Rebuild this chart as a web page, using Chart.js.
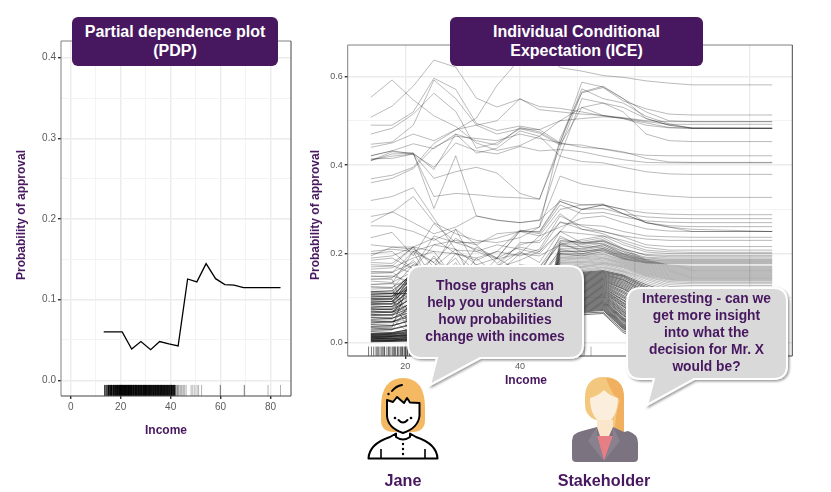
<!DOCTYPE html>
<html>
<head>
<meta charset="utf-8">
<script src="https://cdn.jsdelivr.net/npm/chart.js@4"></script>
<style>
  html, body { margin: 0; padding: 0; background: #fff; }
  body { position: relative; width: 831px; height: 492px; overflow: hidden; font-family: "Liberation Sans", Arial, sans-serif; }
  canvas { position: absolute; top: 0; }
  svg { position: absolute; left: 0; top: 0; }
  .box { position: absolute; top: 17px; height: 49px; background: #47185f; color: #fff; border-radius: 6px; font-weight: bold; font-size: 16px; line-height: 19px; text-align: center; padding-top: 5px; box-sizing: border-box; }
  .say { position: absolute; color: #47185f; font-weight: bold; font-size: 13.8px; line-height: 16.9px; text-align: center; white-space: nowrap; transform: translateX(-50%); }
  .axis { position: absolute; color: #47185f; font-weight: bold; font-size: 12px; white-space: nowrap; transform: translate(-50%, -50%); }
  .axis.y { transform: translate(-50%, -50%) rotate(-90deg); }
  .name { position: absolute; color: #47185f; font-weight: bold; font-size: 16.2px; white-space: nowrap; transform: translate(-50%, -50%); }
</style>
</head>
<body>
<canvas id="pdpChart" width="320" height="492" style="left:0"></canvas>
<canvas id="iceChart" width="511" height="492" style="left:320px"></canvas>

<svg width="831" height="492" viewBox="0 0 831 492">
  <defs>
    <filter id="shade" x="-10%" y="-10%" width="125%" height="125%">
      <feDropShadow dx="1.5" dy="1.5" stdDeviation="1.2" flood-color="#000" flood-opacity="0.4"/>
    </filter>
  </defs>
  <path d="M422,266H569Q583,266 583,280V344Q583,358 569,358H480L430,385L437,358H422Q408,358 408,344V280Q408,266 422,266Z" fill="#d9d9d9" stroke="#fff" stroke-width="2" filter="url(#shade)"/>
  <path d="M641,288H773Q787,288 787,302V365Q787,379 773,379H694L647,405L654,379H641Q627,379 627,365V302Q627,288 641,288Z" fill="#d9d9d9" stroke="#fff" stroke-width="2" filter="url(#shade)"/>

  <!-- Jane -->
  <path d="M381,408Q381,378 403,378Q425,378 425,408V420Q425,432 412,432H394Q381,432 381,420Z" fill="#f4b962"/>
  <path d="M387,400V416Q388,428 403,433Q418,428 419.5,416V403L410,402.5L407,398L404,403L397,397L393,402Z" fill="#fff" stroke="#000" stroke-width="2" stroke-linejoin="round"/>
  <path d="M392,391Q396,386 402,385" fill="none" stroke="#000" stroke-width="2" stroke-linecap="round"/>
  <circle cx="388.5" cy="394" r="1.2"/>
  <circle cx="395" cy="418" r="1.3"/><circle cx="411" cy="418" r="1.3"/>
  <path d="M398.5,420Q403,425 407.5,420" fill="none" stroke="#000" stroke-width="2" stroke-linecap="round"/>
  <path d="M368.5,458.5C369,447 378,441 390,437L396,433.5V437Q403,442 410,437V433.5L416,437C428,441 437,447 437.5,458.5Z" fill="#fff" stroke="#000" stroke-width="2" stroke-linejoin="round"/>
  <path d="M381,449V458M425,449V458" stroke="#000" stroke-width="1.6"/>
  <circle cx="403" cy="444" r="1.2"/><circle cx="403" cy="449" r="1.2"/><circle cx="403" cy="454" r="1.2"/>

  <!-- Stakeholder -->
  <path d="M585,398Q585,377 604,377Q624,377 624,398V430Q624,438 618,438H612V420H596Q585,416 585,405Z" fill="#f4c77e"/>
  <path d="M606,378Q624,378 624,398V437H614Q616,410 620,400Q612,396 606,378Z" fill="#f0b060"/>
  <path d="M590,398Q598,396 604,390Q610,396 618,398Q618,418 604,425Q590,418 590,398Z" fill="#fbeedd"/>
  <rect x="597" y="420" width="16" height="18" fill="#fbe6cc"/>
  <path d="M572,441Q572,433 582,431L597,427L600,436H609L613,427L624,432L628,431Q638,434 638,443V458Q638,462 634,462H576Q572,462 572,458Z" fill="#7c7380"/>
  <path d="M597,436H613L604,461Z" fill="#e57f85"/>
  <path d="M597,427L588,441L604,461L597,436ZM613,427L620,441L604,461L613,436Z" fill="#8a818e"/>
</svg>

<div class="box" style="left:72px;width:206px">Partial dependence plot<br>(PDP)</div>
<div class="box" style="left:450px;width:253px">Individual Conditional<br>Expectation (ICE)</div>
<div class="say" style="left:495px;top:278px">Those graphs can<br>help you understand<br>how probabilities<br>change with incomes</div>
<div class="say" style="left:706.5px;top:291px">Interesting - can we<br>get more insight<br>into what the<br>decision for Mr. X<br>would be?</div>
<div class="axis y" style="left:21px;top:215px">Probability of approval</div>
<div class="axis y" style="left:315px;top:215px">Probability of approval</div>
<div class="axis" style="left:166px;top:430px">Income</div>
<div class="axis" style="left:526px;top:380px">Income</div>
<div class="name" style="left:403px;top:480px">Jane</div>
<div class="name" style="left:604px;top:480px">Stakeholder</div>

<script>
// --- PDP curve ---
const pdpIncome = [13.2, 16.9, 20.6, 24.4, 28.1, 32, 35.6, 39.3, 43, 46.8, 50.5, 54.2, 58, 61.7, 65.4, 69.2, 84];
const pdpProb = [.06, .06, .06, .0388, .048, .038, .048, .045, .0425, .1256, .122, .1446, .126, .1186, .118, .115, .115];

// --- Axis ticks ---
const pdpXMajor = [0, 20, 40, 60, 80];
const pdpXMinor = [10, 30, 50, 70];
const pdpYMajor = [0, .1, .2, .3, .4];
const pdpYMinor = [.05, .15, .25, .35];
const iceXMajor = [20, 40, 60, 80];
const iceXMinor = [30, 50, 70];
const iceYMajor = [0, .2, .4, .6];
const iceYMinor = [.1, .3, .5];

// --- Observed incomes for the rug ---
const rugDense = [13.6, 14.1, 14.5, 14.9, 15.1, 15.3, 15.6, 15.9, 16.1, 16.3, 16.4, 16.8, 17.1, 17.2, 17.5, 17.8, 18, 18.1, 18.3, 18.6, 18.7, 18.9, 19.2, 19.3, 19.5, 19.6, 19.9, 20, 20.1, 20.3, 20.4, 20.7, 20.8, 21, 21.1, 21.3, 21.5, 21.6, 21.9, 22, 22.1, 22.3, 22.5, 22.6, 22.8, 23, 23.1, 23.2, 23.5, 23.6, 23.8, 24, 24.1, 24.3, 24.4, 24.6, 24.9, 25, 25.1, 25.3, 25.4, 25.7, 25.9, 26, 26.2, 26.4, 26.5, 26.8, 27, 27.1, 27.3, 27.6, 27.7, 28, 28.1, 28.3, 28.5, 28.6, 28.9, 29.1, 29.2, 29.5, 29.6, 29.9, 30, 30.2, 30.4, 30.5, 30.8, 31, 31.1, 31.4, 31.6, 31.7, 32, 32.1, 32.4, 32.5, 32.8, 33, 33.2, 33.3, 33.6, 33.8, 34, 34.1, 34.4, 34.6, 34.7, 35, 35.2, 35.3, 35.6, 35.8, 36, 36.2, 36.4, 36.5, 36.8, 37, 37.2, 37.4, 37.6, 37.8, 38, 38.3, 38.5, 38.7, 38.9, 39.1, 39.4, 39.6, 39.8, 40.1, 40.3, 40.4, 40.7, 41, 41.2, 41.5, 41.7];
const rugSparse = [42, 42.1, 42.5, 42.8, 43, 43.3, 43.8, 44.2, 44.6, 45.1, 45.6, 46.2, 48.2, 48.9, 49.7, 50.6, 51.2, 52.4, 59.9, 59.9, 69.5, 69.5, 79, 84];

// --- ICE curves ---
const iceIncome = [14, 17.7, 21.4, 25, 28.8, 32.4, 36, 40, 43.4, 47, 50.8, 54.5, 58, 62, 66, 70, 84];

// individuals with high approval
const iceHigh = [
  [.553, .592, .547, .511, .487, .45, .433, .444, .465, .5, .505, .509, .506, .498, .492, .492, .492],
  [.508, .533, .578, .637, .621, .551, .531, .549, .532, .528, .52, .511, .505, .495, .485, .483, .483],
  [.49, .49, .52, .596, .571, .494, .478, .488, .48, .45, .572, .55, .54, .51, .493, .483, .483],
  [.47, .483, .515, .562, .521, .438, .45, .482, .472, .445, .53, .512, .505, .49, .484, .483, .483],
  [.447, .452, .49, .592, .55, .49, .47, .482, .48, .5, .53, .54, .53, .505, .49, .483, .483],
  [.369, .377, .395, .449, .479, .506, .58, .64, .66, .62, .612, .602, .598, .59, .585, .581, .581],
  [.421, .432, .425, .37, .385, .395, .382, .336, .323, .45, .587, .576, .55, .505, .49, .484, .483],
  [.414, .415, .425, .329, .336, .333, .328, .326, .323, .44, .565, .578, .55, .52, .5, .498, .498],
  [.41, .425, .427, .302, .421, .285, .276, .27, .276, .318, .3, .31, .29, .27, .26, .255, .25],
  [.32, .329, .349, .28, .208, .205, .22, .21, .2, .25, .3, .31, .3, .27, .26, .25, .25],
  [.284, .293, .329, .27, .245, .23, .225, .236, .26, .375, .357, .349, .342, .335, .33, .327, .327],
  [.421, .432, .448, .437, .47, .455, .445, .485, .475, .448, .445, .436, .428, .422, .421, .421, .421],
  [.412, .42, .425, .395, .45, .432, .425, .442, .432, .435, .43, .42, .412, .406, .405, .405, .405],
  [.41, .43, .427, .39, .47, .427, .438, .477, .465, .42, .408, .405, .395, .385, .38, .379, .379],
  [.27, .295, .27, .245, .26, .285, .275, .27, .275, .42, .55, .54, .52, .47, .455, .453, .453],
  [.263, .262, .25, .23, .255, .22, .245, .25, .26, .46, .563, .575, .545, .527, .515, .513, .513],
  [.44, .45, .47, .455, .48, .49, .5, .55, .525, .52, .515, .512, .507, .5, .498, .498, .498],
  [.36, .37, .392, .44, .465, .46, .455, .47, .46, .45, .44, .437, .43, .415, .407, .406, .406]
];

// individuals in the middle, with the step near 45
const iceMid = [
  [.236, .248, .195, .268, .225, .21, .19, .25, .25, .322, .31, .31, .3, .292, .289, .288, .288],
  [.22, .215, .215, .235, .2, .185, .205, .253, .248, .318, .3, .302, .29, .283, .28, .279, .279],
  [.205, .21, .205, .22, .21, .175, .19, .252, .245, .31, .29, .293, .283, .274, .271, .27, .27],
  [.2, .205, .165, .24, .225, .225, .235, .25, .24, .3, .31, .312, .29, .27, .263, .261, .261],
  [.195, .215, .21, .18, .235, .205, .188, .2, .24, .26, .28, .285, .27, .256, .251, .25, .25],
  [.19, .195, .215, .17, .255, .17, .17, .225, .225, .27, .265, .262, .25, .24, .238, .237, .237],
  [.185, .19, .165, .22, .23, .22, .178, .22, .23, .29, .255, .25, .24, .233, .23, .23, .23],
  [.18, .178, .215, .205, .2, .19, .205, .195, .21, .285, .262, .25, .238, .22, .216, .216, .216],
  [.175, .173, .155, .19, .15, .215, .19, .215, .205, .25, .245, .24, .23, .214, .208, .208, .208],
  [.17, .172, .215, .14, .2, .16, .168, .185, .205, .272, .255, .245, .225, .208, .204, .203, .203],
  [.165, .168, .19, .205, .14, .175, .155, .2, .195, .22, .232, .24, .22, .204, .2, .2, .2],
  [.16, .158, .18, .15, .19, .12, .17, .205, .18, .25, .225, .228, .21, .198, .196, .196, .196],
  [.155, .157, .205, .18, .13, .19, .15, .165, .17, .235, .222, .23, .212, .196, .193, .193, .193],
  [.15, .147, .175, .17, .21, .125, .175, .165, .16, .23, .225, .222, .205, .192, .19, .19, .19],
  [.148, .15, .135, .195, .125, .16, .14, .175, .17, .22, .21, .22, .2, .19, .187, .187, .187],
  [.142, .145, .185, .14, .165, .14, .19, .16, .15, .24, .215, .215, .198, .187, .185, .185, .185],
  [.138, .135, .16, .125, .18, .11, .13, .155, .16, .225, .205, .212, .195, .186, .183, .183, .183],
  [.13, .133, .205, .12, .14, .155, .16, .14, .14, .21, .2, .21, .193, .183, .181, .181, .181],
  [.126, .124, .15, .165, .11, .17, .125, .15, .15, .205, .205, .208, .19, .181, .179, .179, .179],
  [.12, .122, .175, .11, .15, .105, .145, .13, .145, .2, .195, .205, .188, .179, .177, .177, .177]
];

// the dense mass near zero
const iceLow = [
  [.001, .002, .003, .002, .004, .003, .004, .005, .006, .045, .062, .065, .022, .002, .001, .001, .001],
  [.002, .002, .004, .003, .003, .005, .006, .005, .008, .05, .066, .068, .026, .004, .002, .002, .002],
  [.003, .004, .006, .004, .007, .006, .005, .008, .01, .052, .068, .072, .03, .006, .003, .003, .003],
  [.004, .004, .005, .007, .006, .008, .009, .01, .011, .056, .07, .074, .032, .007, .004, .004, .004],
  [.005, .006, .008, .006, .01, .009, .01, .012, .012, .058, .072, .076, .034, .008, .005, .005, .005],
  [.006, .005, .009, .008, .009, .012, .011, .013, .014, .06, .074, .078, .036, .01, .006, .006, .006],
  [.007, .008, .007, .011, .012, .01, .014, .014, .016, .06, .076, .08, .038, .012, .007, .007, .007],
  [.008, .009, .012, .01, .013, .014, .013, .017, .018, .064, .078, .082, .04, .014, .008, .008, .008],
  [.009, .008, .011, .013, .012, .016, .017, .016, .02, .066, .08, .084, .042, .016, .01, .009, .009],
  [.01, .012, .014, .012, .017, .015, .018, .02, .021, .068, .082, .086, .045, .018, .011, .01, .01],
  [.011, .011, .013, .016, .015, .019, .02, .022, .023, .07, .084, .088, .048, .02, .012, .012, .012],
  [.012, .013, .017, .015, .02, .018, .022, .023, .025, .07, .086, .09, .05, .022, .014, .013, .013],
  [.013, .014, .016, .019, .018, .023, .022, .026, .027, .074, .088, .092, .052, .024, .015, .014, .014],
  [.014, .015, .02, .018, .023, .022, .026, .027, .03, .076, .09, .094, .054, .026, .017, .016, .016],
  [.015, .014, .019, .022, .021, .026, .028, .03, .031, .078, .092, .096, .056, .028, .019, .018, .018],
  [.016, .018, .023, .021, .027, .025, .03, .031, .034, .08, .094, .098, .06, .03, .021, .02, .02],
  [.017, .017, .022, .026, .024, .03, .031, .035, .036, .082, .096, .1, .062, .032, .023, .022, .022],
  [.018, .02, .027, .024, .032, .029, .036, .036, .04, .085, .098, .102, .065, .034, .025, .024, .024],
  [.019, .019, .025, .03, .028, .036, .035, .042, .042, .088, .1, .104, .068, .036, .027, .026, .026],
  [.02, .021, .031, .028, .037, .034, .042, .04, .047, .09, .102, .106, .07, .038, .03, .028, .028],
  [.024, .022, .03, .035, .033, .042, .04, .048, .048, .092, .104, .108, .073, .041, .032, .03, .03],
  [.028, .029, .04, .036, .046, .041, .05, .048, .056, .095, .106, .11, .076, .044, .034, .032, .032],
  [.032, .03, .042, .048, .044, .054, .05, .06, .06, .098, .108, .112, .08, .047, .036, .035, .035],
  [.036, .037, .052, .046, .06, .052, .064, .06, .07, .1, .11, .114, .082, .05, .039, .038, .038],
  [.04, .038, .05, .058, .054, .066, .062, .074, .072, .102, .112, .116, .085, .053, .042, .041, .041],
  [.044, .046, .066, .056, .074, .062, .078, .072, .084, .105, .114, .118, .088, .056, .045, .044, .044],
  [.048, .046, .06, .072, .064, .08, .074, .088, .086, .108, .116, .12, .09, .06, .048, .047, .047],
  [.052, .054, .078, .066, .09, .074, .094, .084, .1, .11, .118, .122, .094, .063, .052, .05, .05],
  [.056, .054, .07, .086, .074, .098, .086, .104, .1, .112, .12, .124, .096, .066, .055, .053, .053],
  [.06, .062, .092, .076, .104, .084, .11, .098, .116, .115, .122, .126, .1, .07, .058, .056, .056],
  [.063, .061, .08, .1, .086, .112, .098, .122, .114, .118, .124, .128, .103, .073, .061, .059, .059],
  [.066, .068, .105, .085, .118, .096, .124, .11, .13, .12, .126, .13, .106, .076, .064, .062, .062],
  [.07, .068, .09, .115, .096, .128, .11, .135, .126, .122, .128, .132, .11, .08, .067, .065, .065],
  [.073, .075, .118, .094, .132, .106, .138, .122, .142, .125, .13, .134, .113, .083, .07, .068, .068],
  [.076, .074, .1, .13, .106, .142, .12, .148, .136, .128, .132, .136, .116, .086, .073, .071, .071],
  [.079, .081, .13, .104, .146, .116, .15, .13, .152, .13, .134, .138, .12, .09, .076, .074, .074],
  [.082, .08, .11, .142, .116, .154, .13, .16, .146, .133, .136, .14, .122, .093, .079, .077, .077],
  [.085, .087, .142, .114, .158, .126, .16, .14, .16, .136, .138, .142, .125, .096, .082, .08, .08],
  [.088, .086, .12, .155, .126, .16, .14, .155, .13, .138, .14, .144, .128, .1, .085, .083, .083],
  [.09, .092, .152, .12, .16, .134, .15, .12, .145, .14, .142, .146, .131, .103, .088, .086, .086],
  [.093, .092, .13, .16, .134, .15, .118, .14, .12, .142, .144, .148, .134, .106, .091, .089, .089],
  [.096, .098, .16, .128, .15, .11, .145, .115, .15, .145, .146, .15, .137, .11, .094, .092, .092],
  [.099, .098, .138, .145, .105, .14, .11, .15, .1, .148, .148, .152, .14, .113, .097, .095, .095],
  [.102, .104, .155, .1, .145, .09, .15, .095, .14, .15, .15, .154, .142, .116, .1, .098, .098],
  [.105, .104, .125, .15, .08, .145, .085, .14, .09, .152, .152, .156, .145, .12, .103, .101, .101],
  [.108, .11, .16, .09, .14, .075, .14, .08, .13, .155, .154, .158, .148, .123, .106, .104, .104],
  [.111, .11, .11, .14, .07, .13, .07, .135, .08, .158, .156, .16, .15, .126, .11, .108, .108],
  [.114, .116, .155, .075, .13, .065, .13, .07, .12, .16, .158, .162, .152, .13, .114, .112, .112]
];

// the lighter top of the mass, flat tails from 0.12 to 0.17
const iceUpper = [
  [.026, .027, .1, .13, .06, .12, .06, .125, .07, .162, .16, .165, .155, .134, .118, .116, .116],
  [.034, .033, .16, .065, .12, .055, .12, .06, .11, .165, .162, .168, .158, .138, .122, .12, .12],
  [.043, .044, .09, .12, .05, .11, .05, .115, .06, .168, .165, .17, .16, .142, .126, .124, .124],
  [.057, .056, .15, .055, .11, .045, .11, .05, .1, .17, .168, .173, .162, .145, .13, .128, .128],
  [.067, .068, .08, .11, .04, .1, .04, .105, .05, .172, .17, .176, .165, .148, .134, .132, .132],
  [.078, .077, .16, .045, .1, .035, .1, .04, .09, .175, .172, .178, .168, .15, .137, .135, .135],
  [.091, .092, .07, .1, .03, .09, .03, .095, .04, .178, .175, .18, .17, .152, .14, .138, .138],
  [.103, .102, .15, .035, .09, .025, .09, .03, .08, .18, .178, .182, .172, .154, .142, .14, .14],
  [.115, .116, .06, .09, .02, .08, .02, .085, .03, .182, .18, .185, .174, .156, .144, .142, .142],
  [.034, .035, .16, .03, .08, .02, .08, .025, .07, .185, .182, .188, .176, .158, .146, .144, .144],
  [.048, .047, .05, .08, .02, .07, .015, .075, .02, .188, .185, .19, .178, .16, .148, .146, .146],
  [.062, .063, .15, .025, .07, .015, .07, .02, .06, .19, .188, .192, .18, .162, .15, .148, .148],
  [.074, .073, .04, .07, .015, .06, .01, .065, .015, .192, .19, .195, .182, .164, .152, .15, .15],
  [.086, .087, .16, .02, .06, .01, .06, .015, .05, .195, .192, .198, .184, .166, .154, .152, .152],
  [.098, .097, .03, .06, .01, .05, .01, .055, .01, .198, .195, .2, .186, .168, .156, .154, .154],
  [.108, .109, .14, .015, .05, .01, .05, .01, .04, .2, .198, .204, .188, .17, .158, .156, .156],
  [.124, .123, .02, .05, .01, .04, .008, .045, .01, .202, .2, .208, .19, .172, .16, .158, .158],
  [.131, .132, .13, .01, .04, .008, .04, .01, .03, .205, .204, .212, .192, .174, .162, .16, .16],
  [.143, .142, .02, .04, .008, .03, .006, .035, .008, .208, .208, .216, .195, .176, .164, .162, .162],
  [.158, .159, .12, .01, .03, .006, .03, .008, .02, .212, .212, .22, .198, .178, .166, .164, .164],
  [.05, .051, .015, .03, .006, .02, .005, .025, .006, .216, .216, .224, .2, .18, .168, .166, .166],
  [.07, .069, .11, .008, .02, .005, .02, .006, .015, .22, .22, .228, .204, .182, .17, .168, .168],
  [.095, .096, .01, .02, .005, .015, .004, .02, .005, .224, .224, .232, .208, .184, .172, .17, .17],
  [.113, .112, .1, .006, .015, .004, .015, .005, .01, .228, .228, .236, .212, .186, .174, .172, .172]
];

// ggplot style frame round the panel
const framePlugin = {
  id: 'frame',
  afterDatasetsDraw(chart) {
    const { ctx, chartArea: a } = chart;
    ctx.save();
    ctx.lineWidth = 1;
    ctx.strokeStyle = '#808080';
    ctx.beginPath();
    ctx.moveTo(a.left, a.bottom);
    ctx.lineTo(a.left, a.top);
    ctx.lineTo(a.right, a.top);
    ctx.stroke();
    ctx.strokeStyle = '#444';
    ctx.beginPath();
    ctx.moveTo(a.right, a.top);
    ctx.lineTo(a.right, a.bottom);
    ctx.lineTo(a.left, a.bottom);
    ctx.stroke();
    ctx.restore();
  }
};

function axis(min, max, major, minor, fmt, tickSize, fit) {
  const isMajor = v => major.includes(v);
  return {
    type: 'linear',
    min: min,
    max: max,
    afterBuildTicks: scale => {
      scale.ticks = major.concat(minor).sort((a, b) => a - b).map(v => ({ value: v }));
    },
    afterFit: fit,
    border: { display: false },
    grid: {
      color: c => isMajor(c.tick.value) ? '#ebebeb' : '#f3f3f3',
      lineWidth: c => isMajor(c.tick.value) ? 1.4 : 1,
      tickColor: c => isMajor(c.tick.value) ? '#333' : 'rgba(0,0,0,0)',
      tickLength: 3
    },
    ticks: {
      autoSkip: false,
      maxRotation: 0,
      padding: 2,
      color: '#5a5a5a',
      font: { family: 'Liberation Sans', size: tickSize },
      callback: v => isMajor(v) ? fmt(v) : ''
    }
  };
}

function rugDataset(values, y, radius, alpha) {
  return {
    data: values.map(x => ({ x: x, y: y })),
    showLine: false,
    pointStyle: 'line',
    pointRotation: 90,
    pointRadius: radius,
    pointBorderWidth: 1,
    pointBorderColor: 'rgba(0,0,0,' + alpha + ')'
  };
}

function iceDatasets(rows, alpha) {
  return rows.map(row => ({
    data: iceIncome.map((x, i) => ({ x: x, y: row[i] })),
    showLine: true,
    tension: 0,
    pointRadius: 0,
    borderColor: 'rgba(0,0,0,' + alpha + ')',
    borderWidth: 1
  }));
}

const sharedOptions = {
  responsive: false,
  animation: false,
  events: [],
  plugins: { legend: { display: false }, tooltip: { enabled: false } }
};

new Chart(document.getElementById('pdpChart'), {
  type: 'scatter',
  plugins: [framePlugin],
  data: {
    datasets: [
      {
        data: pdpIncome.map((x, i) => ({ x: x, y: pdpProb[i] })),
        showLine: true,
        tension: 0,
        pointRadius: 0,
        borderColor: '#000',
        borderWidth: 1.3
      },
      rugDataset(rugDense, -.0126, 5.5, .9),
      rugDataset(rugSparse, -.0126, 5.5, .3)
    ]
  },
  options: Object.assign({}, sharedOptions, {
    layout: { padding: { left: 31, right: 29, top: 41, bottom: 74 } },
    scales: {
      x: axis(-3.9, 88.2, pdpXMajor, pdpXMinor, v => String(v), 10, s => { s.height = 22; }),
      y: axis(-.0195, .4207, pdpYMajor, pdpYMinor, v => v.toFixed(1), 10, s => { s.width = 30; })
    }
  })
});

new Chart(document.getElementById('iceChart'), {
  type: 'scatter',
  plugins: [framePlugin],
  data: {
    datasets: iceDatasets(iceHigh, .27).concat(
      iceDatasets(iceMid, .28),
      iceDatasets(iceUpper, .26),
      iceDatasets(iceLow, .55),
      [rugDataset(rugDense, -.0203, 4.7, .55), rugDataset(rugSparse, -.0203, 4.7, .3)]
    )
  },
  options: Object.assign({}, sharedOptions, {
    layout: { padding: { left: 2, right: 38.7, top: 45, bottom: 114 } },
    scales: {
      x: axis(9.96, 87.5, iceXMajor, iceXMinor, v => String(v), 9, s => { s.height = 22; }),
      y: axis(-.031, .671, iceYMajor, iceYMinor, v => v.toFixed(1), 9, s => { s.width = 25.7; })
    }
  })
});
</script>
</body>
</html>
